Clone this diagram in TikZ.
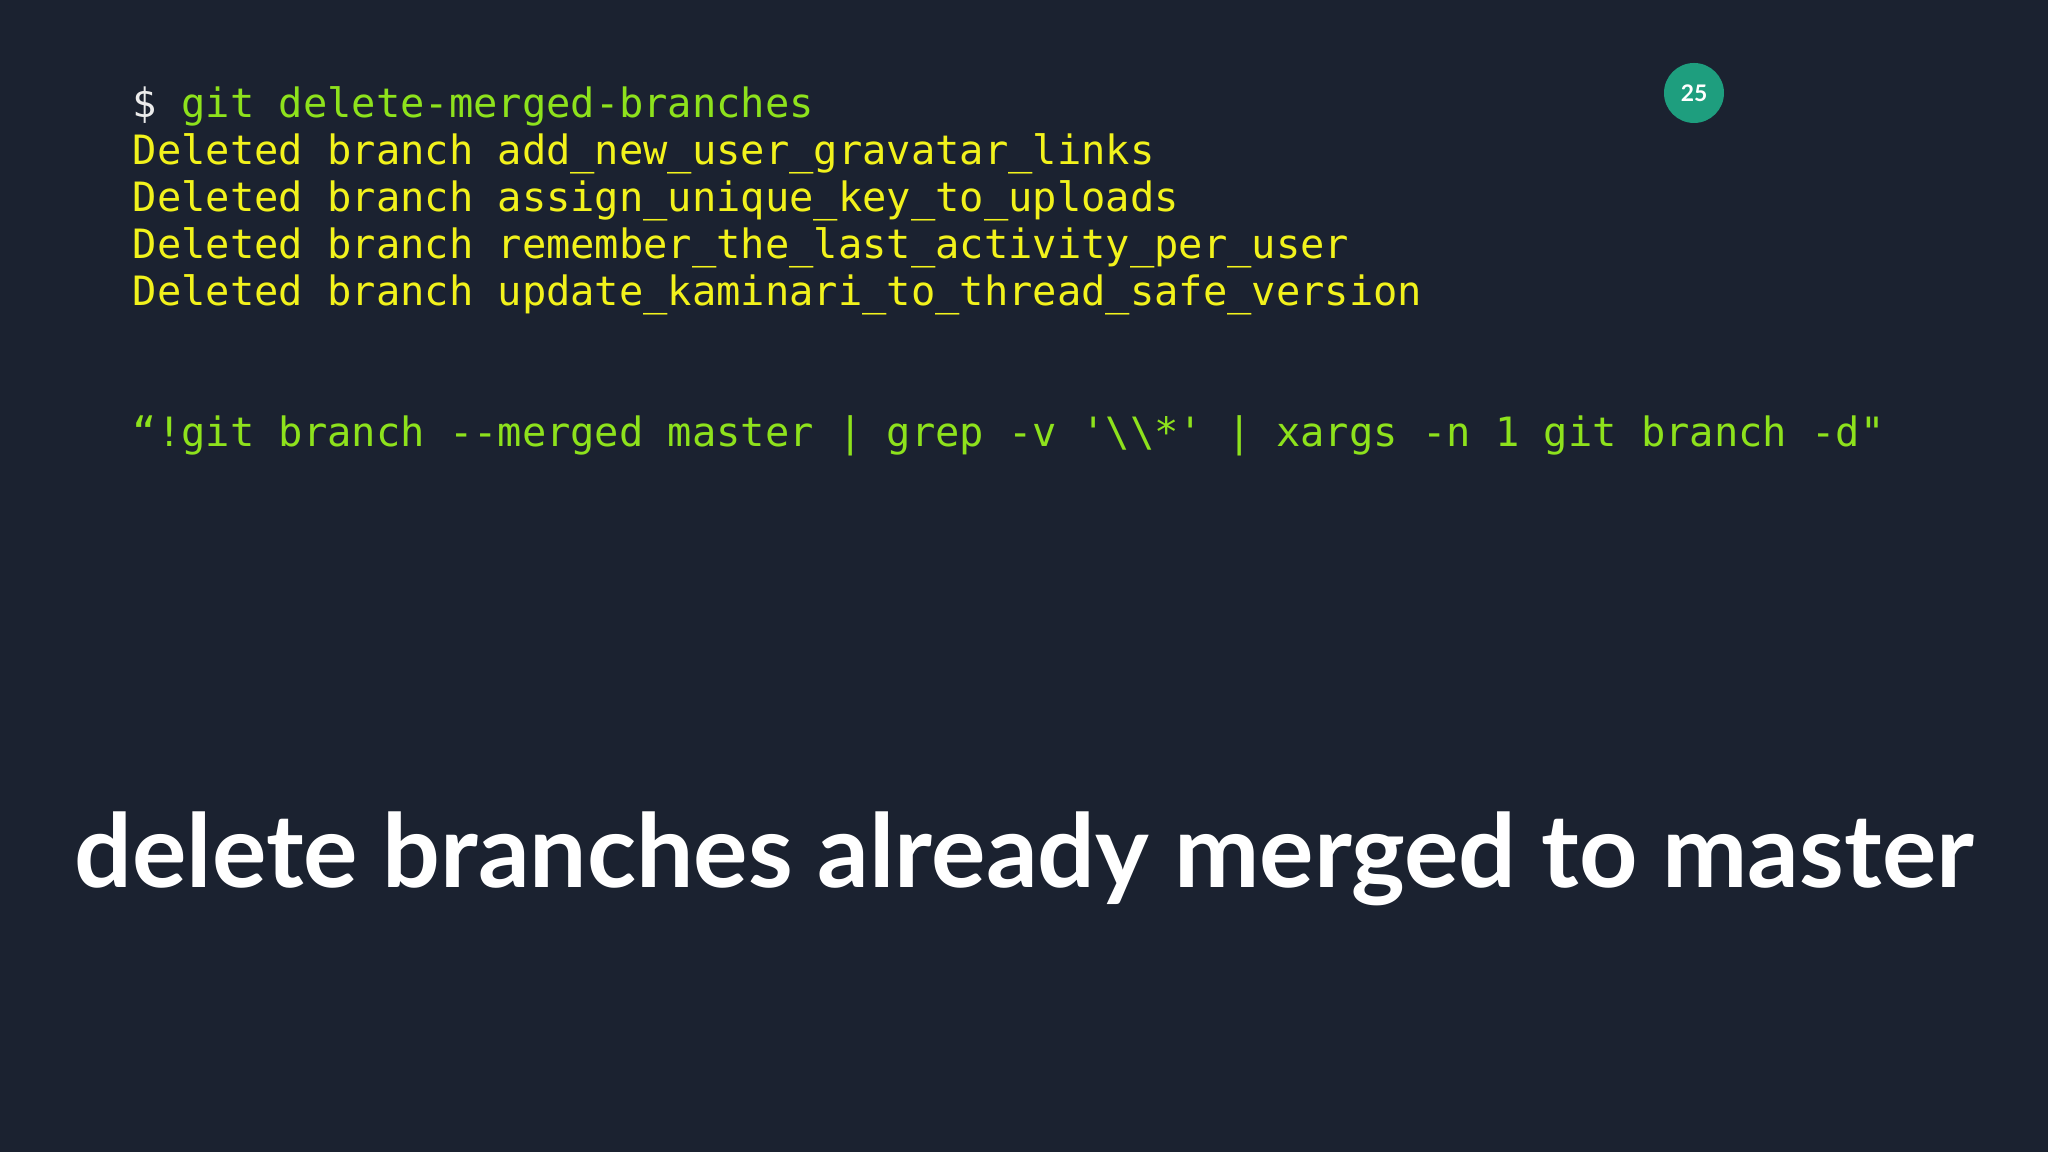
\documentclass[tikz,border=0pt]{standalone}
\usepackage{fontspec}
\setmainfont{Lato}
\setmonofont{DejaVu Sans Mono}
\definecolor{bg}{HTML}{1B2230}
\definecolor{cgreen}{HTML}{8EE21C}
\definecolor{cyellow}{HTML}{F2F21C}
\definecolor{cteal}{HTML}{1E9E7E}
\begin{document}
\begin{tikzpicture}[x=1cm,y=1cm,
  code/.style={anchor=base west,inner sep=0pt,font=\ttfamily\fontsize{11.5pt}{14pt}\selectfont},
  badge/.style={circle,fill=cteal,minimum size=0.6cm,inner sep=0pt,text=white,font=\bfseries\fontsize{6.5pt}{8pt}\selectfont}]
\fill[bg] (0,0) rectangle (20.48,11.52);
\useasboundingbox (0,0) rectangle (20.48,11.52);
\node[code] (l0) at (1.32,10.34) {\textcolor{white!85!gray}{\$} \textcolor{cgreen}{git delete-merged-branches}};
\node[code,text=cyellow] (l1) at (1.32,9.87) {Deleted branch add\_new\_user\_gravatar\_links};
\node[code,text=cyellow] (l2) at (1.32,9.40) {Deleted branch assign\_unique\_key\_to\_uploads};
\node[code,text=cyellow] (l3) at (1.32,8.93) {Deleted branch remember\_the\_last\_activity\_per\_user};
\node[code,text=cyellow] (l4) at (1.32,8.46) {Deleted branch update\_kaminari\_to\_thread\_safe\_version};
\node[code,text=cgreen] (cmd) at (1.32,7.05) {“!git branch --merged master | grep -v '\textbackslash\textbackslash*' | xargs -n 1 git branch -d"};
\node[anchor=base,inner sep=0pt,text=white,font=\bfseries\fontsize{29pt}{34pt}\selectfont] (title) at (10.24,2.64) {delete branches already merged to master};
\node[badge] (num) at (16.94,10.59) {25};
\end{tikzpicture}
\end{document}
